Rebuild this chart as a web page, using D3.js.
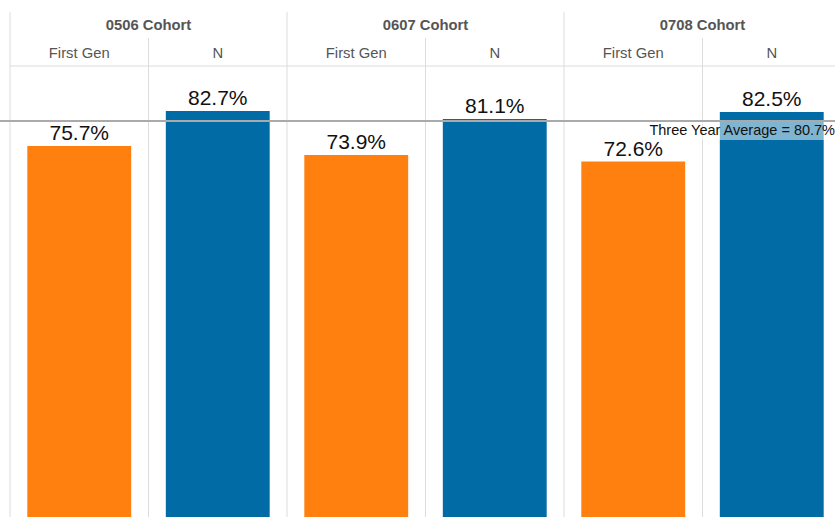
<!DOCTYPE html>
<html>
<head>
<meta charset="utf-8">
<script src="https://cdn.jsdelivr.net/npm/d3@7"></script>
<style>
  body { margin: 0; background: #fff; }
  svg { display: block; font-family: Arial, "Liberation Sans", sans-serif; }
</style>
</head>
<body>
<script>
// data
const cohorts = ["0506 Cohort", "0607 Cohort", "0708 Cohort"];
const groups = ["First Gen", "N"];
const firstGen = [75.7, 73.9, 72.6];
const nValues = [82.7, 81.1, 82.5];
const average = 80.7;
const averageLabel = "Three Year Average = 80.7%";

const colors = { "First Gen": "#FF800E", "N": "#006BA4" };

const width = 835, height = 517;

const svg = d3.select("body")
    .append("svg")
    .attr("width", width)
    .attr("height", height);

const rows = [];
cohorts.forEach((c, i) => {
    rows.push({ cohort: c, group: "First Gen", value: firstGen[i] });
    rows.push({ cohort: c, group: "N", value: nValues[i] });
});

// scales
const x0 = d3.scaleBand().domain(cohorts).range([10, 841]);
const x1 = d3.scaleBand().domain(groups).range([0, x0.bandwidth()])
    .paddingInner(0.25).paddingOuter(0.125);
const cell = d3.scaleBand().domain(groups).range([0, x0.bandwidth()]);
const y = d3.scaleLinear().domain([0, 100]).range([524.5, 24.5]);

const headerBottom = 66;

// grid lines
const grid = svg.append("g").attr("stroke", "#dcdcdc").attr("stroke-width", 1);
cohorts.forEach(c => {
    grid.append("line")
        .attr("x1", x0(c)).attr("x2", x0(c))
        .attr("y1", 12).attr("y2", height);
    grid.append("line")
        .attr("x1", x0(c) + cell("N")).attr("x2", x0(c) + cell("N"))
        .attr("y1", 38).attr("y2", height);
});
grid.append("line")
    .attr("x1", 10).attr("x2", width)
    .attr("y1", headerBottom).attr("y2", headerBottom);

// headers
svg.selectAll(".cohort")
    .data(cohorts)
    .enter()
    .append("text")
    .attr("class", "cohort")
    .attr("x", d => x0(d) + x0.bandwidth() / 2)
    .attr("y", 30)
    .attr("text-anchor", "middle")
    .attr("font-size", 14.8)
    .attr("font-weight", "bold")
    .attr("fill", "#555")
    .text(d => d);

svg.selectAll(".group")
    .data(rows)
    .enter()
    .append("text")
    .attr("class", "group")
    .attr("x", d => x0(d.cohort) + cell(d.group) + cell.bandwidth() / 2)
    .attr("y", 57.5)
    .attr("text-anchor", "middle")
    .attr("font-size", 14.8)
    .attr("fill", "#555")
    .text(d => d.group);

// bars
svg.selectAll(".bar")
    .data(rows)
    .enter()
    .append("rect")
    .attr("class", "bar")
    .attr("x", d => x0(d.cohort) + x1(d.group))
    .attr("y", d => y(d.value))
    .attr("width", x1.bandwidth())
    .attr("height", d => y(0) - y(d.value))
    .attr("fill", d => colors[d.group]);

svg.selectAll(".val")
    .data(rows)
    .enter()
    .append("text")
    .attr("class", "val")
    .attr("x", d => x0(d.cohort) + x1(d.group) + x1.bandwidth() / 2)
    .attr("y", d => y(d.value) - 6)
    .attr("text-anchor", "middle")
    .attr("font-size", 21)
    .attr("fill", "#111")
    .text(d => d.value.toFixed(1) + "%");

// reference line
svg.append("line")
    .attr("x1", 0).attr("x2", width)
    .attr("y1", y(average)).attr("y2", y(average))
    .attr("stroke", "#aaa")
    .attr("stroke-width", 2);

const lbl = svg.append("g");
const t = lbl.append("text")
    .attr("x", 835)
    .attr("y", y(average) + 13.5)
    .attr("text-anchor", "end")
    .attr("font-size", 14.5)
    .attr("fill", "#111")
    .text(averageLabel);
const bb = t.node().getBBox();
lbl.insert("rect", "text")
    .attr("x", bb.x - 2)
    .attr("y", y(average) + 1)
    .attr("width", bb.width + 4)
    .attr("height", 18)
    .attr("fill", "#fff")
    .attr("opacity", 0.5);
</script>
</body>
</html>
